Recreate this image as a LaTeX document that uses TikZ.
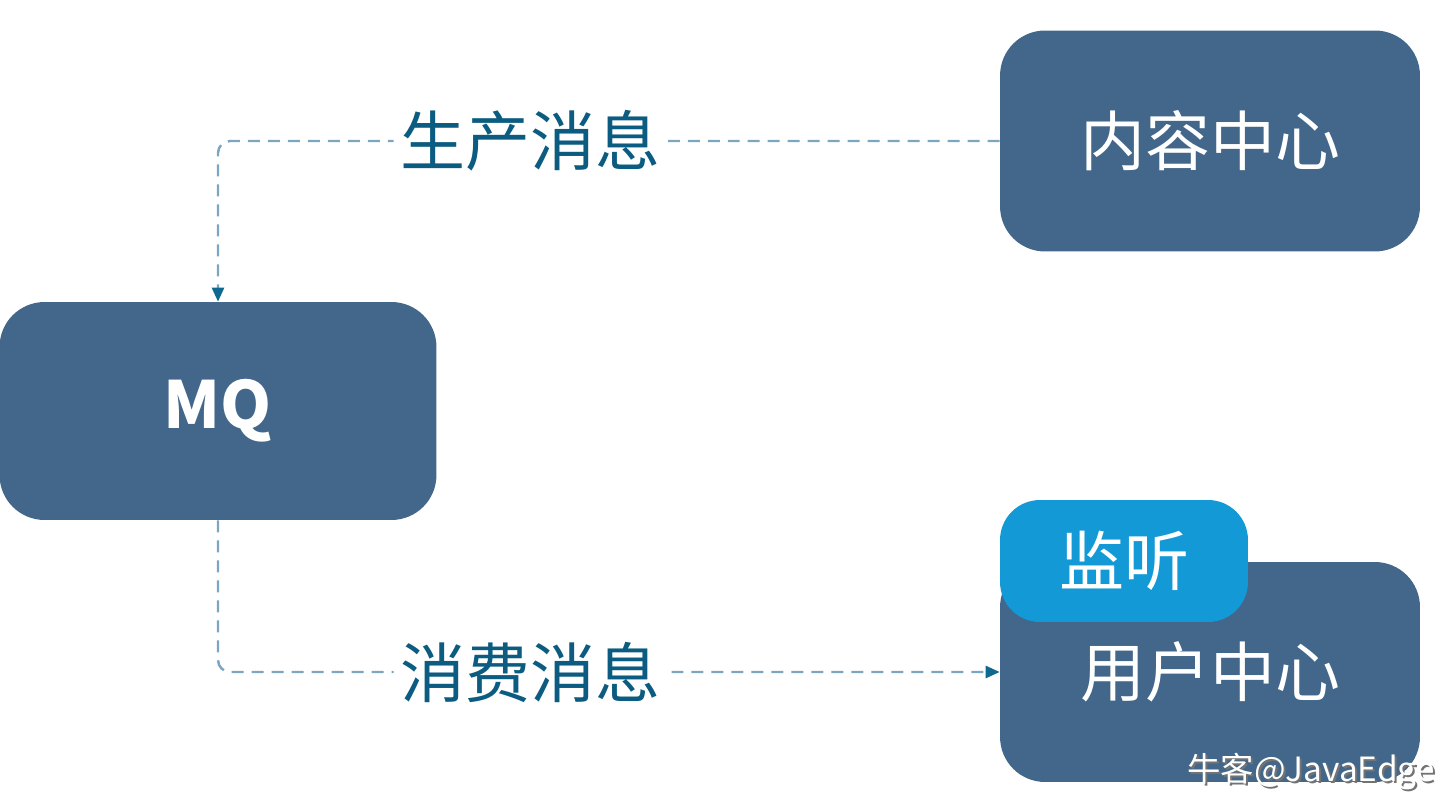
\documentclass[tikz,border=0pt]{standalone}
\usepackage{fontspec}
\setmainfont{Noto Sans CJK SC}
\usepackage{tikz}
\usetikzlibrary{positioning,arrows.meta,calc}
\usepackage{xcolor}
\definecolor{boxblue}{HTML}{42678A}
\definecolor{tagblue}{HTML}{1399D6}
\definecolor{labelblue}{HTML}{0B5C80}
\definecolor{lineblue}{HTML}{7BA5C0}
\definecolor{tipblue}{HTML}{0E6890}
\tikzset{
  center/.style={draw=none,fill=boxblue,rounded corners=0.9cm,minimum width=8.4cm,minimum height=4.42cm,inner sep=0pt,text=white,font=\fontsize{37}{40}\selectfont},
  tagbox/.style={fill=tagblue,rounded corners=0.8cm,minimum width=4.96cm,minimum height=2.44cm,inner sep=0pt,text=white,font=\fontsize{37}{40}\selectfont},
  msglabel/.style={fill=white,inner sep=4pt,text=labelblue,font=\fontsize{37}{40}\selectfont},
  flow/.style={draw=lineblue,line width=1.4pt,dash pattern=on 0.24cm off 0.16cm,rounded corners=0.24cm,
    -{Triangle[length=0.28cm,width=0.24cm,color=tipblue,fill=tipblue]}},
  wmark/.style={anchor=east,inner sep=0pt,font=\fontsize{19}{20}\selectfont},
}
\begin{document}
\begin{tikzpicture}[x=0.02cm,y=-0.02cm]
\useasboundingbox (0,0) rectangle (1446,800);

\node[center] (content) at (1210,141) {内容中心};
\node[center,minimum width=8.74cm,minimum height=4.36cm] (mq) at (218,411) {\textbf{MQ}};
\node[center,minimum height=4.4cm] (user) at (1210,672) {用户中心};
\node[tagbox] (listen) at (1124,561) {监听};

\draw[flow] (content.west) -| (mq.north)
  node[msglabel,pos=0.3] (produce) {生产消息};
\draw[flow] (mq.south) |- (user.west)
  node[msglabel,pos=0.7] (consume) {消费消息};

% watermark
\node[wmark,text=black!55] (markshadow) at (1437,773) {牛客@JavaEdge};
\node[wmark,text=white] (mark) at (1435,771) {牛客@JavaEdge};

\end{tikzpicture}
\end{document}
